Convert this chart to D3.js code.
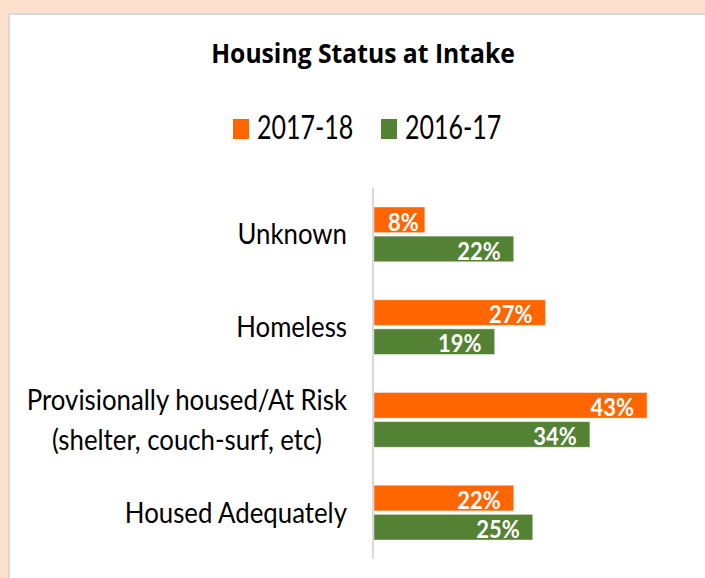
<!DOCTYPE html>
<html lang="en">
<head>
  <meta charset="UTF-8">
  <title>Housing Status at Intake</title>
  <style>
    body { margin: 0; background: #fde1cd; }
    text { font-family: Lato, "Open Sans", sans-serif; }
  </style>
</head>
<body>
  <script src="https://cdn.jsdelivr.net/npm/d3@7"></script>
  <script>
    const width = 705, height = 578

    // data
    const categories = ["Unknown", "Homeless", "Provisionally housed/At Risk|(shelter, couch-surf, etc)", "Housed Adequately"]
    const seriesNames = ["2017-18", "2016-17"]
    const values2017 = [0.08, 0.27, 0.43, 0.22]
    const values2016 = [0.22, 0.19, 0.34, 0.25]
    const colors = ["#ff6600", "#548235"]

    const svg = d3.select("body").append("svg")
      .attr("width", width)
      .attr("height", height)
      .style("display", "block")

    // white chart panel with grey edge
    svg.append("rect").attr("x", 8).attr("y", 13).attr("width", width).attr("height", height).attr("fill", "#d9d9d9")
    svg.append("rect").attr("x", 10).attr("y", 15).attr("width", width).attr("height", height).attr("fill", "#fff")

    // stretched text helper (the picture is squashed horizontally)
    function label(g, x, y, str, size, sy, opts) {
      opts = opts || {}
      return g.append("text")
        .attr("transform", "translate(" + x + "," + y + ") scale(1," + sy + ")")
        .attr("font-size", size)
        .attr("font-weight", opts.bold ? 700 : 400)
        .attr("text-anchor", opts.anchor || "start")
        .attr("fill", opts.fill || "#000")
        .style("font-family", opts.family || null)
        .text(str)
    }

    label(svg, 363, 63, "Housing Status at Intake", 24.7, 1.05, {bold: true, anchor: "middle", family: "'Open Sans', sans-serif"})

    // legend
    const legend = svg.append("g")
    const legendX = [233, 381]
    seriesNames.forEach((s, i) => {
      legend.append("rect").attr("x", legendX[i]).attr("y", 119).attr("width", 16).attr("height", 20).attr("fill", colors[i])
      label(legend, legendX[i] + 24, 139, s, 25, 1.28)
    })

    const x = d3.scaleLinear().domain([0, 0.5]).range([374, 374 + 317.5])
    const y = d3.scaleBand().domain(categories).range([188, 559]).paddingInner(0.41).paddingOuter(0.205)
    const y1 = d3.scaleBand().domain(seriesNames).range([0, y.bandwidth()]).paddingInner(0.12)

    const rows = categories.map((c, i) => ({cat: c, vals: [values2017[i], values2016[i]]}))

    const groups = svg.append("g").selectAll("g")
      .data(rows).enter().append("g")
      .attr("transform", d => "translate(0," + y(d.cat) + ")")

    groups.selectAll("rect")
      .data(d => d.vals.map((v, i) => ({v: v, s: seriesNames[i], i: i})))
      .enter().append("rect")
      .attr("x", x(0))
      .attr("y", d => y1(d.s))
      .attr("width", d => x(d.v) - x(0))
      .attr("height", y1.bandwidth())
      .attr("fill", d => colors[d.i])
      .attr("stroke", "#fff")
      .attr("stroke-opacity", 0.4)
      .attr("stroke-width", 1)

    groups.each(function (d) {
      const g = d3.select(this)
      d.vals.forEach((v, i) => {
        const s = seriesNames[i]
        const pad = v < 0.1 ? 6 : 13
        label(g, x(v) - pad, y1(s) + y1.bandwidth() - 2, Math.round(v * 100) + "%", 22, 1.12, {bold: true, anchor: "end", fill: "#fff"})
      })
      // category labels: block right-aligned, lines centred inside it
      const lines = d.cat.split("|")
      const mid = y.bandwidth() / 2
      const texts = lines.map((ln, j) => {
        const off = (j - (lines.length - 1) / 2) * 40
        return label(g, 0, mid + off + 10, ln, 25.8, 1.1, {anchor: "middle"})
      })
      const maxW = d3.max(texts, t => t.node().getComputedTextLength())
      texts.forEach((t, j) => {
        const off = (j - (lines.length - 1) / 2) * 40
        t.attr("transform", "translate(" + (347 - maxW / 2) + "," + (mid + off + 10) + ") scale(1,1.1)")
      })
    })

    // vertical axis line
    svg.append("line")
      .attr("x1", 373).attr("x2", 373)
      .attr("y1", 188).attr("y2", 559)
      .attr("stroke", "#d9d9d9").attr("stroke-width", 2)
  </script>
</body>
</html>
